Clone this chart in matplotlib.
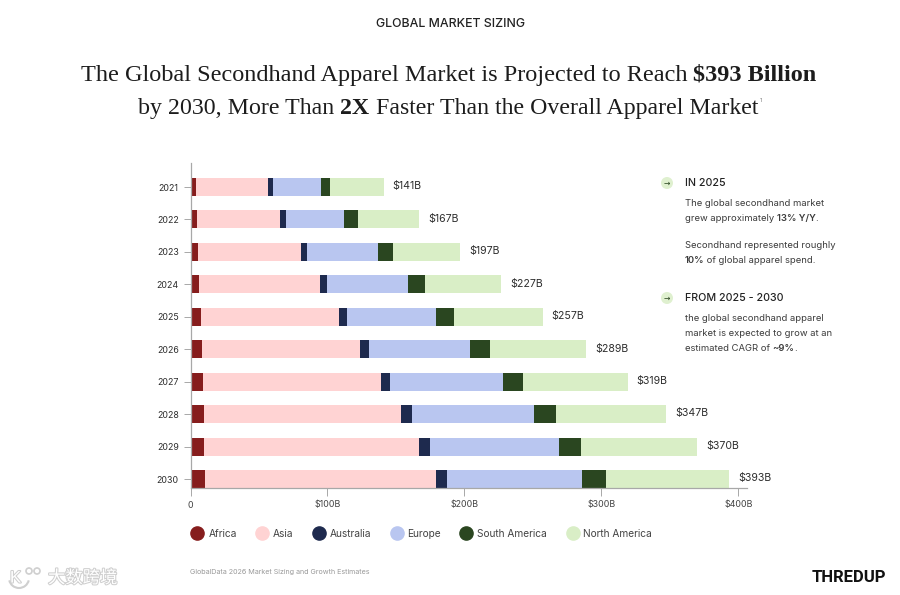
import matplotlib
matplotlib.use('Agg')
import matplotlib.pyplot as plt
import matplotlib.patheffects as pe
from matplotlib.lines import Line2D
from matplotlib.patches import Arc, Ellipse
import numpy as np

# Data, $ billions
years = ['2021', '2022', '2023', '2024', '2025', '2026', '2027', '2028', '2029', '2030']
africa = [3.8, 4.7, 5.5, 6.4, 7.4, 8.4, 8.9, 9.6, 10.0, 10.6]
asia = [53.0, 60.9, 74.9, 88.4, 101.0, 115.6, 130.1, 144.4, 157.0, 168.6]
australia = [3.2, 3.9, 4.4, 4.8, 5.6, 6.3, 6.9, 7.4, 7.6, 8.0]
europe = [35.3, 42.8, 52.2, 59.2, 65.4, 73.9, 82.1, 89.1, 94.1, 98.8]
south_america = [6.7, 10.0, 11.0, 12.2, 13.2, 14.4, 15.0, 16.1, 16.6, 17.5]
north_america = [39.0, 44.7, 49.0, 56.0, 64.4, 70.4, 76.0, 80.4, 84.7, 89.5]
totals = [141, 167, 197, 227, 257, 289, 319, 347, 370, 393]

regions = ['Africa', 'Asia', 'Australia', 'Europe', 'South America', 'North America']
colors = ['#861d1d', '#ffd3d3', '#1e2a4e', '#b9c6f0', '#2a4620', '#d9eec6']
x_ticks = [0, 100, 200, 300, 400]
x_tick_labels = ['0', '$100B', '$200B', '$300B', '$400B']

W, H = 900, 595
TEXT = '#2e2e2e'
GREY = '#a8a8a8'
plt.rcParams['font.family'] = ['Inter', 'DejaVu Sans']

fig = plt.figure(figsize=(W / 100, H / 100), dpi=100)


def fx(px):
    return px / W


def fy(py):
    return 1 - py / H


def runs(x, y, parts, size, center=False, color=TEXT, family=('Inter', 'DejaVu Sans')):
    """Write (text, weight) pieces one after the other on a baseline, x and y in pixels"""
    renderer = fig.canvas.get_renderer()
    drawn = []
    for part, weight in parts:
        drawn.append(fig.text(fx(x), fy(y), part, fontsize=size, fontweight=weight,
                              va='baseline', ha='left', color=color, family=list(family)))
    widths = [t.get_window_extent(renderer).width for t in drawn]
    cur = x - sum(widths) / 2 if center else x
    for t, w in zip(drawn, widths):
        t.set_x(fx(cur))
        cur += w


# Main chart
ax = fig.add_axes([fx(190.5), fy(488), fx(746.7) - fx(190.5), fy(163) - fy(488)])
y_pos = np.arange(len(years))
series = [africa, asia, australia, europe, south_america, north_america]
left = np.zeros(len(years))
for values, region, color in zip(series, regions, colors):
    ax.barh(y_pos, values, left=left, height=0.555, color=color, label=region)
    left += np.array(values)

for y, end, total in zip(y_pos, left, totals):
    ax.annotate(f'${total}B', (end, y), xytext=(6.5, 0.5), textcoords='offset points',
                va='center', ha='left', fontsize=7.6, color=TEXT)

ax.set_xlim(0, 406)
ax.set_ylim(9.277, -0.74)
ax.set_yticks(y_pos)
ax.set_yticklabels(years)
ax.set_xticks(x_ticks)
ax.set_xticklabels(x_tick_labels)
ax.tick_params(axis='y', length=5, width=0.7, color=GREY, labelsize=6.4, labelcolor=TEXT, pad=3.5)
ax.tick_params(axis='x', length=5.5, width=0.7, color=GREY, labelsize=6.4, labelcolor='#444444', pad=3.5)
for side in ['top', 'right']:
    ax.spines[side].set_visible(False)
for side in ['left', 'bottom']:
    ax.spines[side].set_color(GREY)
    ax.spines[side].set_linewidth(0.9)

handles = [Line2D([], [], marker='o', linestyle='', markersize=9.5, color=c) for c in colors]
ax.legend(handles, regions, ncol=6, frameon=False, loc='upper left',
          bbox_to_anchor=(-0.006, -0.125), borderaxespad=0, borderpad=0,
          handletextpad=0.08, columnspacing=1.5, fontsize=7.3, labelcolor='#444444')

# Header
fig.text(0.5, fy(24), 'GLOBAL MARKET SIZING', ha='center', va='center', fontsize=8.9,
         fontweight='medium', color='#222222')
serif = ('Liberation Serif', 'DejaVu Serif')
runs(448.5, 81, [('The Global Secondhand Apparel Market is Projected to Reach ', 'normal'),
                 ('$393 Billion', 'bold')], 17.5, center=True, family=serif, color='#1c1c1c')
runs(448, 114, [('by 2030, More Than ', 'normal'), ('2X', 'bold'),
                (' Faster Than the Overall Apparel Market', 'normal')],
     17.17, center=True, family=serif, color='#1c1c1c')
fig.text(fx(760), fy(100), '1', fontsize=4, color='#777777', ha='left', va='center')

# Side notes
for py in [183, 298]:
    fig.add_artist(Ellipse((fx(667), fy(py)), 12 / W, 12 / H, transform=fig.transFigure,
                           color='#dff0cf', lw=0))
    fig.text(fx(667), fy(py), '→', fontsize=5.5, ha='center', va='center', color='#2a4620',
             family='DejaVu Sans')
fig.text(fx(685), fy(183), 'IN 2025', fontsize=7.7, fontweight='medium', va='center', color='#222222')
fig.text(fx(685), fy(298), 'FROM 2025 - 2030', fontsize=7.7, fontweight='medium', va='center', color='#222222')

BODY = '#3c3c3c'
runs(685, 206, [('The global secondhand market', 'normal')], 6.8, color=BODY)
runs(685, 221, [('grew approximately ', 'normal'), ('13% Y/Y', 'semibold'), ('.', 'normal')], 6.8, color=BODY)
runs(685, 248, [('Secondhand represented roughly', 'normal')], 6.8, color=BODY)
runs(685, 263, [('10%', 'semibold'), (' of global apparel spend.', 'normal')], 6.8, color=BODY)
runs(685, 321, [('the global secondhand apparel', 'normal')], 6.8, color=BODY)
runs(685, 336, [('market is expected to grow at an', 'normal')], 6.8, color=BODY)
runs(685, 351, [('estimated CAGR of ', 'normal'), ('~9%', 'semibold'), ('.', 'normal')], 6.8, color=BODY)

# Footer
fig.text(fx(190.5), fy(572), 'GlobalData 2026 Market Sizing and Growth Estimates', fontsize=5.15,
         color='#9a9a9a', va='center')
fig.text(fx(886), fy(578), 'THREDUP', fontsize=12, fontweight='bold', ha='right', va='center',
         color='#111111', family=['Roboto', 'Liberation Sans'])

# Watermark
halo = [pe.withStroke(linewidth=1.5, foreground='#cfcfcf')]
fig.text(fx(48), fy(578), '大数跨境', fontsize=12.5, color='white', va='center', ha='left',
         family=['Noto Sans CJK SC'], path_effects=halo)
fig.text(fx(10), fy(578), 'K', fontsize=12, color='white', va='center', ha='left',
         family=['Liberation Sans'], path_effects=halo)
fig.add_artist(Arc((fx(19), fy(578)), 20 / W, 20 / H, theta1=200, theta2=340,
                   transform=fig.transFigure, color='#cfcfcf', lw=1.5))
for cx, cy, r in [(29, 571, 3), (37, 571, 3)]:
    fig.add_artist(Ellipse((fx(cx), fy(cy)), 2 * r / W, 2 * r / H, transform=fig.transFigure,
                           facecolor='white', edgecolor='#cfcfcf', lw=1.2))

fig.savefig('out.png', dpi=100)
